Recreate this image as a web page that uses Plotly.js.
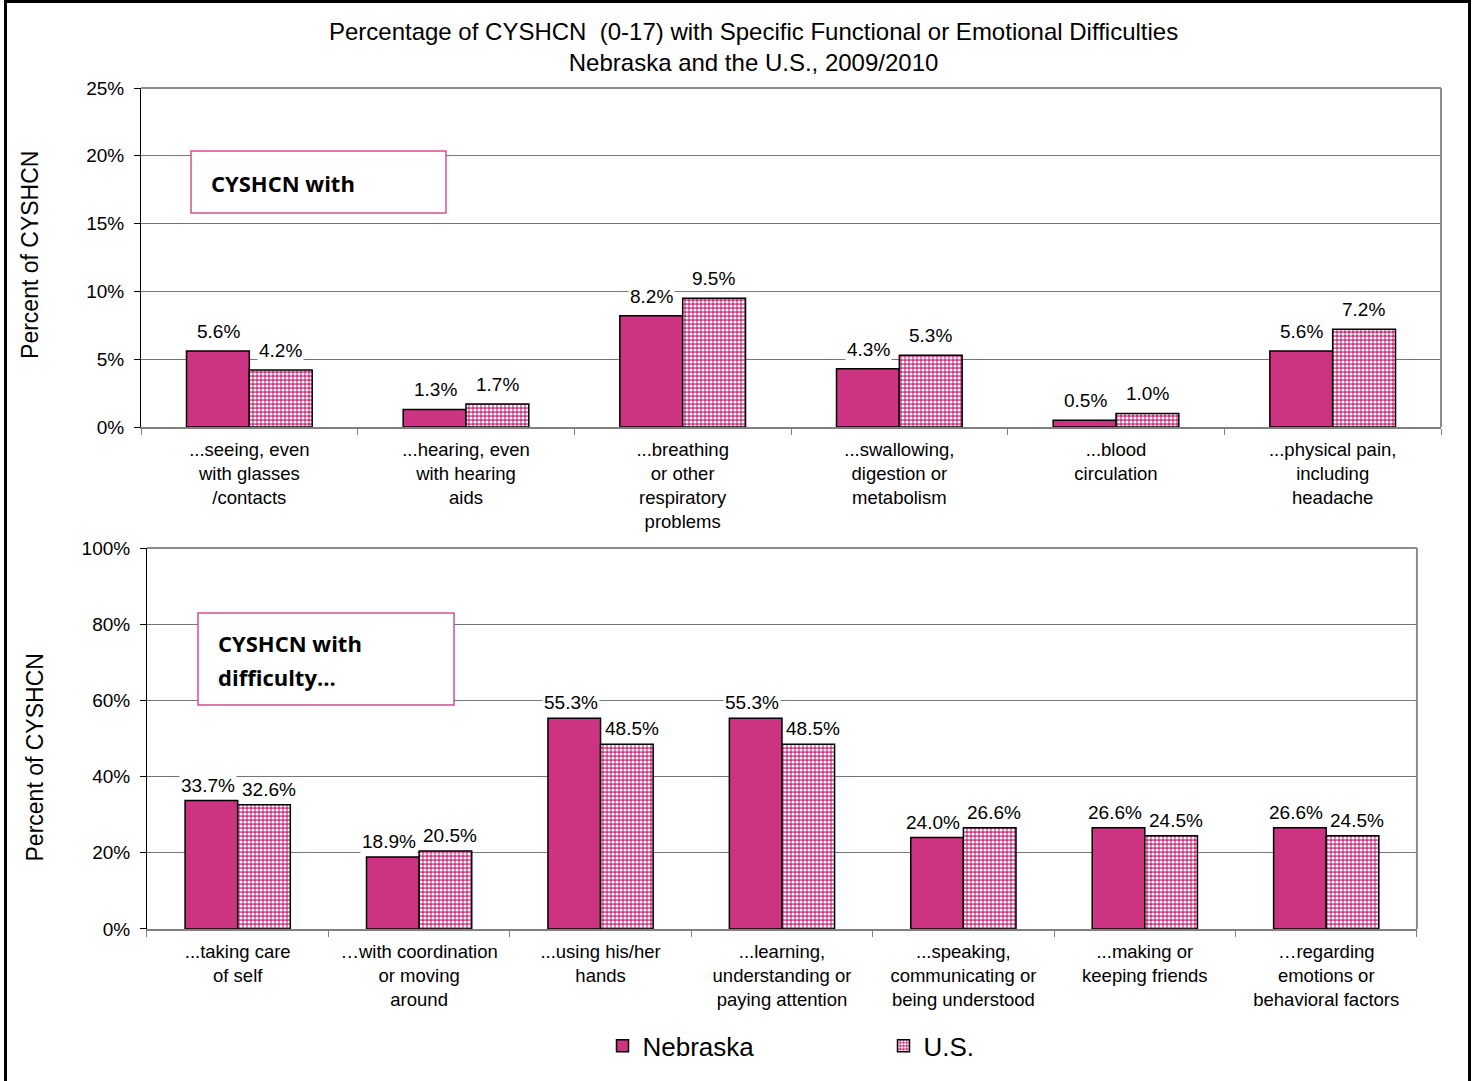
<!DOCTYPE html>
<html>
<head>
<meta charset="utf-8">
<script src="https://cdn.plot.ly/plotly-3.0.1.min.js"></script>
<style>
  html, body { margin: 0; padding: 0; background: #fff; width: 1475px; height: 1081px; overflow: hidden; }
  #frame { position: absolute; left: 4px; top: 0px; width: 1467px; height: 1081px; box-sizing: border-box;
           border-top: 3px solid #000; border-left: 3px solid #000; border-right: 3px solid #000; }
  #chart { position: absolute; left: 0; top: 0; width: 1461px; height: 1078px; }
</style>
</head>
<body>
<div id="frame"><div id="chart"></div></div>
<script>
// ---- Data ----
const topCategories = [
  "...seeing, even<br>with glasses<br>/contacts",
  "...hearing, even<br>with hearing<br>aids",
  "...breathing<br>or other<br>respiratory<br>problems",
  "...swallowing,<br>digestion or<br>metabolism",
  "...blood<br>circulation",
  "...physical pain,<br>including<br>headache"
];
const topNebraska = [5.6, 1.3, 8.2, 4.3, 0.5, 5.6];
const topUS = [4.2, 1.7, 9.5, 5.3, 1.0, 7.2];

const bottomCategories = [
  "...taking care<br>of self",
  "…with coordination<br>or moving<br>around",
  "...using his/her<br>hands",
  "...learning,<br>understanding or<br>paying attention",
  "...speaking,<br>communicating or<br>being understood",
  "...making or<br>keeping friends",
  "…regarding<br>emotions or<br>behavioral factors"
];
const bottomNebraska = [33.7, 18.9, 55.3, 55.3, 24.0, 26.6, 26.6];
const bottomUS = [32.6, 20.5, 48.5, 48.5, 26.6, 24.5, 24.5];

const seriesNames = ["Nebraska", "U.S."];
const titleLines = ["Percentage of CYSHCN  (0-17) with Specific Functional or Emotional Difficulties",
                    "Nebraska and the U.S., 2009/2010"];
const yTitle = "Percent of CYSHCN";
const box1Lines = ["CYSHCN with"];
const box2Lines = ["CYSHCN with", "difficulty..."];

// ---- Styles ----
const MAG = "#CC3380";
const FONT = "Liberation Sans, Arial, sans-serif";
const solidMarker = { color: MAG, line: { color: "#000", width: 1.5 } };
const patMarker = { color: MAG, line: { color: "#000", width: 1.5 },
  pattern: { shape: ".", fgcolor: "#fff", bgcolor: MAG, size: 4, solidity: 0.5, fillmode: "replace" } };

const traces = [
  { type: "bar", name: seriesNames[0], x: topCategories, y: topNebraska, xaxis: "x", yaxis: "y",
    marker: solidMarker, legendgroup: "ne", showlegend: true, hoverinfo: "skip" },
  { type: "bar", name: seriesNames[1], x: topCategories, y: topUS, xaxis: "x", yaxis: "y",
    marker: patMarker, legendgroup: "us", showlegend: true, hoverinfo: "skip" },
  { type: "bar", name: seriesNames[0], x: bottomCategories, y: bottomNebraska, xaxis: "x2", yaxis: "y2",
    marker: solidMarker, legendgroup: "ne", showlegend: false, hoverinfo: "skip" },
  { type: "bar", name: seriesNames[1], x: bottomCategories, y: bottomUS, xaxis: "x2", yaxis: "y2",
    marker: patMarker, legendgroup: "us", showlegend: false, hoverinfo: "skip" }
];

// value labels
const annotations = [];
function addLabels(cats, vals, xref, yref, shift, yshift) {
  cats.forEach((c, i) => {
    annotations.push({ x: c, y: vals[i], xref: xref, yref: yref, text: vals[i].toFixed(1) + "%",
      showarrow: false, xshift: shift, yshift: yshift, yanchor: "bottom", bgcolor: "#fff", borderpad: 1,
      font: { family: FONT, size: 19, color: "#000" } });
  });
}
addLabels(topCategories, topNebraska, "x", "y", -31, 7);
addLabels(topCategories, topUS, "x", "y", 31, 7);
addLabels(bottomCategories, bottomNebraska, "x2", "y2", -30, 3);
addLabels(bottomCategories, bottomUS, "x2", "y2", 31, 3);

// y-axis titles
annotations.push({ text: yTitle, textangle: -90, xref: "paper", yref: "paper", x: -0.0854, y: 0.8015,
  showarrow: false, xanchor: "center", yanchor: "middle", font: { family: FONT, size: 23, color: "#000" } });
annotations.push({ text: yTitle, textangle: -90, xref: "paper", yref: "paper", x: -0.0815, y: 0.204,
  showarrow: false, xanchor: "center", yanchor: "middle", font: { family: FONT, size: 23, color: "#000" } });

// box texts
const boxFont = { family: "Open Sans, sans-serif", size: 22, color: "#000" };
annotations.push({ text: "<b>" + box1Lines[0] + "</b>", xref: "paper", yref: "paper", x: 0.0523, y: 0.887,
  showarrow: false, xanchor: "left", yanchor: "middle", align: "left", font: boxFont });
annotations.push({ text: "<b>" + box2Lines[0] + "</b>", xref: "paper", yref: "paper", x: 0.0577, y: 0.3401,
  showarrow: false, xanchor: "left", yanchor: "middle", align: "left", font: boxFont });
annotations.push({ text: "<b>" + box2Lines[1] + "</b>", xref: "paper", yref: "paper", x: 0.0577, y: 0.2996,
  showarrow: false, xanchor: "left", yanchor: "middle", align: "left", font: boxFont });

const shapes = [
  { type: "rect", xref: "paper", yref: "paper", x0: 0.03846, x1: 0.2346, y0: 0.8514, y1: 0.9251,
    line: { color: "#D4508F", width: 1.5 }, fillcolor: "#fff", layer: "above" },
  { type: "rect", xref: "paper", yref: "paper", x0: 0.04385, x1: 0.2408, y0: 0.2663, y1: 0.3757,
    line: { color: "#D4508F", width: 1.5 }, fillcolor: "#fff", layer: "above" },
  { type: "line", xref: "x domain", yref: "y domain", x0: 0, x1: 1, y0: 1, y1: 1, line: { color: "#8c8c8c", width: 2 } },
  { type: "line", xref: "x domain", yref: "y domain", x0: 1, x1: 1, y0: 0, y1: 1, line: { color: "#8c8c8c", width: 2 } },
  { type: "line", xref: "x2 domain", yref: "y2 domain", x0: 0, x1: 1, y0: 1, y1: 1, line: { color: "#8c8c8c", width: 2 } },
  { type: "line", xref: "x2 domain", yref: "y2 domain", x0: 1, x1: 1, y0: 0, y1: 1, line: { color: "#8c8c8c", width: 2 } }
];

const xCommon = { type: "category", showline: true, linecolor: "#808080", linewidth: 1.5, ticks: "outside",
  tickson: "boundaries", ticklen: 6, tickcolor: "#808080", showgrid: false, zeroline: false,
  ticklabelstandoff: 5, tickfont: { family: FONT, size: 18.5, color: "#000" }, fixedrange: true };
const yCommon = { showline: true, linecolor: "#000", linewidth: 1, ticks: "outside", ticklen: 6, tickcolor: "#000",
  showgrid: true, gridcolor: "#777", gridwidth: 1, zeroline: false, ticksuffix: "%", ticklabelstandoff: 6,
  tickfont: { family: FONT, size: 19, color: "#000" }, fixedrange: true };

const layout = {
  width: 1461, height: 1078,
  margin: { l: 134, r: 27, t: 85, b: 152 },
  paper_bgcolor: "#fff", plot_bgcolor: "#fff",
  font: { family: FONT, color: "#000" },
  title: { text: titleLines.join("<br>"), xref: "container", yref: "container", x: 0.511, y: 0.966,
    xanchor: "center", yanchor: "top", font: { family: FONT, size: 24, color: "#000" } },
  barmode: "group", bargap: 0.42, bargroupgap: 0,
  xaxis: Object.assign({}, xCommon, { domain: [0, 1], anchor: "y" }),
  yaxis: Object.assign({}, yCommon, { domain: [0.5969, 1], range: [0, 25], dtick: 5, anchor: "x" }),
  xaxis2: Object.assign({}, xCommon, { domain: [0.0046, 0.9815], anchor: "y2" }),
  yaxis2: Object.assign({}, yCommon, { domain: [0, 0.453], range: [0, 100], dtick: 20, anchor: "x2" }),
  showlegend: true,
  legend: { orientation: "h", x: 0.355, y: -0.139, xanchor: "left", yanchor: "middle", entrywidth: 236,
    entrywidthmode: "pixels", font: { family: FONT, size: 26, color: "#000" }, bgcolor: "rgba(0,0,0,0)" },
  annotations: annotations,
  shapes: shapes
};

Plotly.newPlot("chart", traces, layout, { displayModeBar: false, staticPlot: true });
</script>
</body>
</html>
